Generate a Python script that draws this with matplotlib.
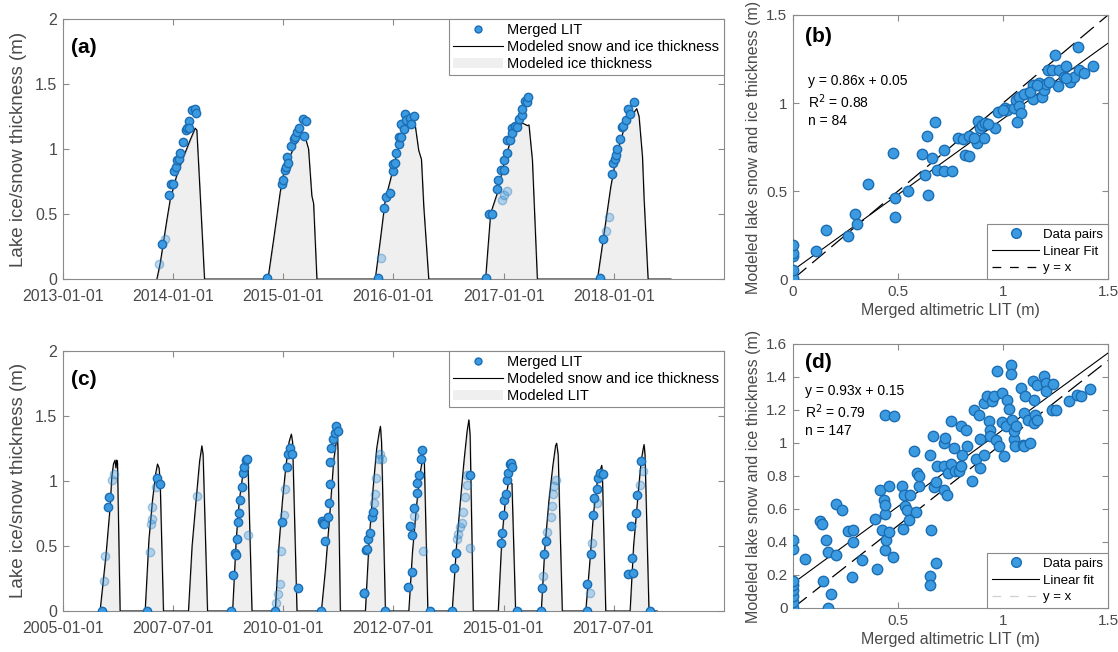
import datetime as dt
import matplotlib
matplotlib.use("Agg")
import matplotlib.pyplot as plt
import matplotlib.dates as mdates
from matplotlib.lines import Line2D
from matplotlib.patches import Patch

plt.rcParams.update({
    "font.family": ["Liberation Sans", "DejaVu Sans"],
    "axes.edgecolor": "#8a8a8a",
    "axes.linewidth": 0.8,
    "xtick.color": "#8a8a8a",
    "ytick.color": "#8a8a8a",
    "xtick.labelcolor": "#4a4a4a",
    "ytick.labelcolor": "#4a4a4a",
    "axes.labelcolor": "#4a4a4a",
})

FACE = "#3c9be0"
EDGE = "#1b6db4"
FILL = "#efefef"

# ── Panel (a): time series 2013-2018 ─────────────────────────────────────────
a_line_t = [2013.852, 2013.882, 2013.942, 2013.973, 2014.033, 2014.094, 2014.155, 2014.200, 2014.215, 2014.239, 2014.285,
            2014.861, 2014.912, 2014.973, 2015.003, 2015.064, 2015.124, 2015.170, 2015.200, 2015.230, 2015.260, 2015.276, 2015.306,
            2015.836, 2015.882, 2015.927, 2015.973, 2016.033, 2016.094, 2016.170, 2016.194, 2016.230, 2016.255, 2016.276, 2016.321,
            2016.836, 2016.882, 2016.942, 2017.003, 2017.064, 2017.124, 2017.170, 2017.215, 2017.230, 2017.261, 2017.306,
            2017.852, 2017.912, 2017.973, 2018.030, 2018.091, 2018.155, 2018.209, 2018.230, 2018.261, 2018.276, 2018.312, 2018.520]
a_line_v = [0, 0.12, 0.45, 0.61, 0.80, 0.94, 1.07, 1.16, 1.146, 0.76, 0,
            0, 0.30, 0.67, 0.81, 0.95, 1.06, 1.11, 1.09, 1.00, 0.64, 0.58, 0,
            0, 0.30, 0.61, 0.76, 0.97, 1.12, 1.22, 1.21, 0.99, 0.92, 0.56, 0,
            0, 0.505, 0.66, 0.89, 1.07, 1.16, 1.20, 1.18, 1.185, 0.915, 0,
            0, 0.35, 0.71, 0.97, 1.15, 1.25, 1.31, 1.25, 0.94, 0.61, 0, 0]

a_lit_t = [2013.876, 2013.897, 2013.924, 2013.958, 2013.979, 2014.003, 2014.009, 2014.030, 2014.033, 2014.057, 2014.064,
           2014.088, 2014.118, 2014.124, 2014.145, 2014.148, 2014.170, 2014.200, 2014.206,
           2014.852, 2014.988, 2014.997, 2015.012, 2015.024, 2015.039, 2015.048, 2015.070, 2015.094, 2015.109,
           2015.124, 2015.148, 2015.176, 2015.185, 2015.206,
           2015.858, 2015.891, 2015.912, 2015.936, 2015.967, 2015.994, 2015.997, 2016.018, 2016.024, 2016.048,
           2016.048, 2016.073, 2016.073, 2016.094, 2016.103, 2016.115, 2016.148, 2016.164, 2016.185,
           2016.836, 2016.867, 2016.897, 2016.942, 2016.948, 2016.982, 2017.003, 2017.033, 2016.976, 2017.003,
           2017.003, 2017.027, 2017.033, 2017.058, 2017.079, 2017.079, 2017.100, 2017.124, 2017.139, 2017.170,
           2017.170, 2017.194, 2017.215, 2017.221,
           2017.876, 2017.906, 2017.933, 2017.961, 2017.982, 2017.994, 2018.009, 2018.024, 2018.030, 2018.054,
           2018.076, 2018.085, 2018.109, 2018.130, 2018.145, 2018.185]
a_lit_v = [0.113, 0.27, 0.31, 0.65, 0.73, 0.73, 0.83, 0.86, 0.915, 0.92, 0.967,
           1.056, 1.146, 1.16, 1.215, 1.16, 1.30, 1.305, 1.275,
           0.005, 0.73, 0.76, 0.84, 0.86, 0.94, 0.89, 1.02, 1.08, 1.09,
           1.13, 1.16, 1.23, 1.10, 1.215,
           0.005, 0.16, 0.55, 0.63, 0.66, 0.83, 0.885, 0.895, 0.97, 1.036,
           1.095, 1.095, 1.19, 1.15, 1.27, 1.22, 1.235, 1.19, 1.256,
           0.005, 0.50, 0.50, 0.69, 0.76, 0.61, 0.65, 0.68, 0.84, 0.84,
           0.915, 0.97, 1.07, 1.07, 1.16, 1.12, 1.18, 1.17, 1.23, 1.26,
           1.31, 1.37, 1.36, 1.40,
           0.005, 0.305, 0.37, 0.48, 0.81, 0.895, 0.92, 0.95, 1.00, 1.08,
           1.17, 1.18, 1.22, 1.31, 1.27, 1.36]
a_lit_faded = [1, 0, 1, 0, 0, 0, 0, 0, 0, 0, 0,
               0, 0, 0, 0, 0, 0, 0, 0,
               0, 0, 0, 0, 0, 0, 0, 0, 0, 0,
               0, 0, 0, 0, 0,
               0, 1, 0, 0, 0, 0, 0, 0, 0, 0,
               0, 0, 0, 0, 0, 0, 0, 0, 0,
               0, 0, 0, 0, 0, 1, 1, 1, 0, 0,
               0, 0, 0, 0, 0, 0, 0, 0, 0, 0,
               0, 0, 0, 0,
               0, 0, 1, 1, 0, 0, 0, 0, 0, 0,
               0, 0, 0, 0, 0, 0]
a_ticks = ["2013-01-01", "2014-01-01", "2015-01-01", "2016-01-01", "2017-01-01", "2018-01-01"]

# ── Panel (c): time series 2005-2018 ─────────────────────────────────────────
c_line_t = [2005.840, 2005.977, 2006.068, 2006.106, 2006.144, 2006.180, 2006.200, 2006.220, 2006.235, 2006.295,
            2006.864, 2006.950, 2007.030, 2007.100, 2007.144, 2007.180, 2007.205, 2007.280,
            2007.848, 2007.930, 2008.020, 2008.100, 2008.152, 2008.180, 2008.280,
            2008.848, 2008.930, 2009.000, 2009.080, 2009.140, 2009.174, 2009.200, 2009.288,
            2009.818, 2009.900, 2009.980, 2010.060, 2010.130, 2010.182, 2010.210, 2010.310,
            2010.864, 2010.955, 2011.068, 2011.144, 2011.205, 2011.230, 2011.240, 2011.295,
            2011.864, 2011.950, 2012.040, 2012.120, 2012.180, 2012.205, 2012.230, 2012.318,
            2012.848, 2012.930, 2013.020, 2013.100, 2013.150, 2013.174, 2013.200, 2013.280,
            2013.833, 2013.930, 2014.020, 2014.100, 2014.170, 2014.212, 2014.240, 2014.311,
            2014.879, 2014.960, 2015.040, 2015.100, 2015.150, 2015.190, 2015.273,
            2015.856, 2015.940, 2016.030, 2016.120, 2016.180, 2016.205, 2016.240, 2016.333,
            2016.864, 2016.950, 2017.040, 2017.120, 2017.190, 2017.227, 2017.240, 2017.318,
            2017.871, 2017.950, 2018.040, 2018.120, 2018.170, 2018.189, 2018.210, 2018.300, 2018.490]
c_line_v = [0, 0.44, 0.80, 1.03, 1.13, 1.16, 1.10, 1.16, 1.15, 0,
            0, 0.55, 0.85, 1.05, 1.13, 1.10, 1.00, 0,
            0, 0.50, 0.85, 1.15, 1.27, 1.20, 0,
            0, 0.55, 0.85, 1.05, 1.12, 1.17, 1.10, 0,
            0, 0.50, 0.85, 1.12, 1.30, 1.36, 1.30, 0,
            0, 0.315, 0.80, 1.16, 1.31, 1.34, 1.25, 0,
            0, 0.55, 0.95, 1.25, 1.38, 1.42, 1.30, 0,
            0, 0.45, 0.80, 1.05, 1.15, 1.19, 1.15, 0,
            0, 0.50, 0.85, 1.15, 1.38, 1.47, 1.35, 0,
            0, 0.55, 0.85, 0.97, 1.00, 0.98, 0,
            0, 0.50, 0.85, 1.12, 1.27, 1.29, 1.20, 0,
            0, 0.35, 0.75, 0.98, 1.08, 1.12, 1.07, 0,
            0, 0.50, 0.85, 1.15, 1.25, 1.28, 1.20, 0, 0]

c_lit_t = [2005.879, 2005.939, 2005.962, 2006.015, 2006.038, 2006.106, 2006.167,
           2006.902, 2006.977, 2006.992, 2007.015, 2007.030, 2007.106, 2007.129, 2007.205,
           2008.038,
           2008.810, 2008.856, 2008.894, 2008.924, 2008.947, 2008.970, 2008.990, 2009.023, 2009.060, 2009.083,
           2009.114, 2009.144, 2009.174, 2009.197,
           2009.818, 2009.840, 2009.870, 2009.917, 2009.947, 2009.977, 2010.023, 2010.045, 2010.083, 2010.106,
           2010.144, 2010.197, 2010.326,
           2010.864, 2010.879, 2010.900, 2010.917, 2010.955, 2011.008, 2011.030, 2011.053, 2011.068, 2011.090,
           2011.129, 2011.182, 2011.205, 2011.235,
           2011.826, 2011.840, 2011.886, 2011.900, 2011.924, 2011.977, 2012.015, 2012.038, 2012.053, 2012.090,
           2012.114, 2012.167, 2012.205, 2012.242, 2012.303,
           2012.833, 2012.871, 2012.924, 2012.924, 2012.962, 2012.977, 2013.023, 2013.038, 2013.076, 2013.114,
           2013.152, 2013.167, 2013.326,
           2013.833, 2013.871, 2013.909, 2013.932, 2013.970, 2014.008, 2014.045, 2014.076, 2014.114, 2014.159,
           2014.174, 2014.235, 2014.235,
           2014.932, 2014.970, 2014.992, 2015.008, 2015.045, 2015.068, 2015.098, 2015.136, 2015.174, 2015.197,
           2015.296,
           2015.856, 2015.879, 2015.902, 2015.917, 2015.955, 2015.992, 2016.068, 2016.091, 2016.129, 2016.144,
           2016.182,
           2016.886, 2016.902, 2016.955, 2016.977, 2017.015, 2017.038, 2017.053, 2017.114, 2017.129, 2017.144,
           2017.182, 2017.258,
           2017.833, 2017.886, 2017.909, 2017.947, 2018.000, 2018.038, 2018.098, 2018.129, 2018.160, 2018.326]
c_lit_v = [0.0, 0.233, 0.42, 0.80, 0.88, 1.006, 1.05,
           0.0, 0.45, 0.67, 0.71, 0.80, 0.95, 1.02, 0.975,
           0.886,
           0.0, 0.277, 0.443, 0.43, 0.55, 0.686, 0.755, 0.853, 0.95, 1.058,
           1.109, 1.16, 1.165, 0.584,
           0.0, 0.06, 0.13, 0.207, 0.464, 0.686, 0.737, 0.94, 1.11, 1.21,
           1.25, 1.21, 0.174,
           0.0, 0.69, 0.68, 0.667, 0.54, 0.72, 0.827, 0.98, 1.147, 1.25,
           1.32, 1.365, 1.42, 1.38,
           0.14, 0.14, 0.47, 0.48, 0.55, 0.60, 0.725, 0.763, 0.83, 0.90,
           1.02, 1.17, 1.21, 1.17, 0.0,
           0.187, 0.653, 0.584, 0.297, 0.73, 0.79, 0.91, 0.986, 1.045, 1.17,
           1.237, 0.464, 0.0,
           0.0, 0.333, 0.443, 0.55, 0.59, 0.648, 0.674, 0.763, 0.873, 0.968,
           1.045, 1.045, 0.487,
           0.525, 0.597, 0.737, 0.853, 0.90, 1.01, 1.063, 1.13, 1.14, 1.104,
           0.0,
           0.0, 0.174, 0.269, 0.435, 0.54, 0.61, 0.725, 0.807, 0.90, 0.96,
           1.006,
           0.0, 0.21, 0.14, 0.435, 0.525, 0.737, 0.87, 0.83, 0.935, 1.02,
           1.063, 1.05,
           0.284, 0.653, 0.405, 0.29, 0.755, 0.89, 0.968, 1.155, 1.08, 0.0]
c_lit_faded = [0, 1, 1, 0, 0, 1, 1,
               0, 1, 1, 1, 1, 1, 0, 0,
               1,
               0, 0, 0, 0, 0, 0, 0, 0, 0, 0,
               0, 0, 0, 1,
               0, 1, 1, 1, 1, 0, 1, 1, 0, 0,
               0, 0, 0,
               0, 0, 0, 0, 0, 0, 0, 0, 0, 0,
               0, 0, 0, 0,
               0, 0, 0, 0, 0, 0, 0, 0, 1, 1,
               1, 1, 1, 1, 0,
               0, 0, 0, 0, 1, 0, 0, 0, 0, 0,
               0, 1, 0,
               0, 0, 0, 1, 1, 1, 1, 1, 1, 1,
               1, 0, 1,
               0, 0, 0, 0, 0, 0, 0, 0, 0, 0,
               0,
               0, 0, 1, 0, 0, 1, 1, 1, 1, 1,
               1,
               0, 0, 1, 0, 1, 0, 0, 1, 0, 0,
               0, 0,
               0, 0, 0, 0, 0, 0, 1, 0, 1, 0]
c_ticks = ["2005-01-01", "2007-07-01", "2010-01-01", "2012-07-01", "2015-01-01", "2017-07-01"]

# ── Panel (b): scatter, n = 84 ───────────────────────────────────────────────
b_x = [0, 0, 0, 0, 0, 0.111, 0.159, 0.262, 0.297, 0.305, 0.358, 0.474, 0.485, 0.488, 0.546,
       0.612, 0.628, 0.639, 0.644, 0.660, 0.676, 0.687, 0.719, 0.720, 0.755, 0.787, 0.811, 0.819,
       0.840, 0.840, 0.875, 0.883, 0.888, 0.899, 0.910, 0.915, 0.962, 0.978, 1.010, 1.018, 1.050,
       1.062, 1.074, 1.074, 1.086, 1.066, 1.121, 1.145, 1.145, 1.169, 1.185, 1.193, 1.206, 1.212,
       1.233, 1.249, 1.260, 1.265, 1.288, 1.301, 1.320, 1.336, 1.355, 1.360, 1.384, 1.428,
       0.860, 0.930, 1.000, 1.100, 1.130, 1.160, 1.220, 1.300]
b_y = [0.006, 0.05, 0.13, 0.15, 0.195, 0.157, 0.28, 0.246, 0.369, 0.312, 0.541, 0.715, 0.458, 0.352, 0.503,
       0.711, 0.592, 0.813, 0.475, 0.687, 0.895, 0.617, 0.734, 0.611, 0.611, 0.80, 0.794, 0.705,
       0.70, 0.81, 0.775, 0.90, 0.857, 0.876, 0.804, 0.889, 0.857, 0.951, 0.97, 0.96, 0.97,
       1.018, 1.037, 0.984, 0.942, 0.895, 1.055, 1.023, 1.103, 1.112, 1.037, 1.074, 1.108, 1.188,
       1.188, 1.273, 1.097, 1.188, 1.146, 1.21, 1.12, 1.146, 1.316, 1.188, 1.173, 1.21,
       0.80, 0.88, 0.96, 1.05, 1.06, 1.10, 1.12, 1.14]
b_fit = (0.86, 0.05)

# ── Panel (d): scatter, n = 147 ──────────────────────────────────────────────
d_x = [0, 0, 0, 0, 0, 0, 0, 0, 0.056, 0.128, 0.136, 0.144, 0.156, 0.168, 0.168, 0.179, 0.207, 0.207,
       0.231, 0.263, 0.287, 0.287, 0.279, 0.327, 0.391, 0.399, 0.415, 0.423, 0.431, 0.436, 0.439,
       0.439, 0.442, 0.455, 0.458, 0.439, 0.479, 0.474, 0.519, 0.523, 0.527, 0.535, 0.543, 0.551,
       0.555, 0.574, 0.587, 0.590, 0.598, 0.601, 0.650, 0.654, 0.654, 0.659, 0.667, 0.673, 0.683,
       0.686, 0.683, 0.718, 0.726, 0.721, 0.721, 0.734, 0.739, 0.750, 0.754, 0.766, 0.770, 0.790,
       0.798, 0.798, 0.806, 0.822, 0.830, 0.854, 0.862, 0.870, 0.886, 0.890, 0.890, 0.910, 0.910,
       0.925, 0.933, 0.938, 0.938, 0.949, 0.957, 0.965, 0.973, 0.981, 0.997, 0.997, 1.005, 1.013,
       1.021, 1.029, 1.037, 1.040, 1.045, 1.050, 1.053, 1.056, 1.061, 1.085, 1.093, 1.098, 1.101,
       1.104, 1.117, 1.130, 1.141, 1.149, 1.149, 1.152, 1.162, 1.162, 1.197, 1.205, 1.205, 1.232,
       1.240, 1.252, 1.316, 1.353, 1.369, 1.412]
d_y = [0, 0.034, 0.075, 0.107, 0.141, 0.162, 0.358, 0.414, 0.297, 0.525, 0.511, 0.162, 0.414, 0.337, 0,
       0.085, 0.323, 0.63, 0.592, 0.465, 0.471, 0.398, 0.186, 0.289, 0.539, 0.236, 0.713, 0.471, 0.657,
       0.572, 0.626, 0.35, 0.41, 0.459, 0.741, 1.168, 1.166, 0.309, 0.737, 0.479, 0.687, 0.616, 0.596,
       0.535, 0.687, 0.95, 0.58, 0.818, 0.737, 0.798, 0.929, 0.196, 0.141, 0.471, 1.04, 0.731, 0.762,
       0.863, 0.273, 1.0, 1.03, 0.859, 0.713, 0.683, 0.818, 0.875, 1.131, 0.97, 0.828, 0.828,
       1.101, 0.859, 0.929, 1.081, 0.98, 0.768, 1.202, 0.903, 1.172, 1.026, 0.848, 0.929, 1.242,
       1.283, 1.131, 1.081, 1.04, 1.253, 1.283, 1.02, 1.438, 0.984, 1.303, 1.125, 0.919, 1.105,
       1.263, 1.206, 1.471, 1.42, 1.141, 1.024, 1.071, 0.98, 1.105, 1.333, 0.99, 0.98, 1.182,
       1.283, 1.141, 1.0, 1.378, 1.263, 1.121, 1.172, 1.354, 1.141, 1.408, 1.364, 1.313, 1.198,
       1.36, 1.198, 1.253, 1.293, 1.283, 1.327]
d_fit = (0.93, 0.15)


def to_date(year_frac):
    year = int(year_frac)
    start = dt.datetime(year, 1, 1)
    end = dt.datetime(year + 1, 1, 1)
    return start + (end - start) * (year_frac - year)


def style_axes(ax):
    ax.tick_params(direction="in", top=True, right=True, length=4, width=0.8,
                   labelsize=11.5, pad=4)
    for s in ax.spines.values():
        s.set_color("#8a8a8a")


def time_panel(ax, line_t, line_v, pts_t, pts_v, faded, ticks, xlim, label, fill_label):
    dates = [to_date(t) for t in line_t]
    ax.fill_between(dates, 0, line_v, facecolor=FILL, edgecolor="#9a9a9a", linewidth=0.6, zorder=1)
    ax.plot(dates, line_v, color="black", linewidth=0.8, zorder=2)
    for flag, alpha in ((1, 0.35), (0, 1.0)):
        tt = [to_date(t) for t, f in zip(pts_t, faded) if f == flag]
        vv = [v for v, f in zip(pts_v, faded) if f == flag]
        ax.plot(tt, vv, "o", ms=6, mfc=FACE, mec=EDGE, mew=1.0, alpha=alpha, zorder=3)
    ax.set_xlim(dt.datetime.fromisoformat(xlim[0]), dt.datetime.fromisoformat(xlim[1]))
    ax.set_ylim(0, 2)
    ax.set_yticks([0, 0.5, 1, 1.5, 2])
    ax.set_yticklabels(["0", "0.5", "1", "1.5", "2"])
    ax.set_xticks([dt.datetime.fromisoformat(s) for s in ticks])
    ax.xaxis.set_major_formatter(mdates.DateFormatter("%Y-%m-%d"))
    ax.set_ylabel("Lake ice/snow thickness (m)", fontsize=13.5, labelpad=6)
    style_axes(ax)
    ax.tick_params(axis="x", pad=7)
    ax.text(0.012, 0.89, label, transform=ax.transAxes, fontsize=15, fontweight="bold", va="center")
    handles = [
        Line2D([], [], marker="o", ls="none", ms=5, mfc=FACE, mec=EDGE),
        Line2D([], [], color="black", lw=0.8),
        Patch(facecolor=FILL, edgecolor="none"),
    ]
    leg = ax.legend(handles, ["Merged LIT", "Modeled snow and ice thickness", fill_label],
                    loc="upper right", borderaxespad=0, fancybox=False, framealpha=1,
                    edgecolor="#8a8a8a", fontsize=10.5, handlelength=3.4, labelspacing=0.2,
                    handletextpad=0.3, borderpad=0.3)
    leg.get_frame().set_linewidth(0.8)


def scatter_panel(ax, xs, ys, fit, n, r2, label, yticks, xticks, ylim, yx_color, text_y, legend_lines):
    xx = [0, 1.5]
    ax.plot(xs, ys, "o", ms=7.5, mfc=FACE, mec=EDGE, mew=1.0, zorder=3)
    ax.plot(xx, [fit[0] * x + fit[1] for x in xx], color="black", lw=0.8, zorder=2)
    ax.plot(xx, xx, color="black", lw=0.9, dashes=(14, 6), zorder=2)
    ax.set_xlim(0, 1.5)
    ax.set_ylim(*ylim)
    ax.set_xticks(xticks)
    ax.set_xticklabels([f"{v:g}" for v in xticks])
    ax.set_yticks(yticks)
    ax.set_yticklabels([f"{v:g}" for v in yticks])
    ax.set_xlabel("Merged altimetric LIT (m)", fontsize=11.5, labelpad=3)
    ax.set_ylabel("Modeled lake snow and ice thickness (m)", fontsize=11.5, labelpad=4)
    style_axes(ax)
    ax.tick_params(labelsize=11)
    ax.text(0.038, 0.917 if label == "(b)" else 0.928, label, transform=ax.transAxes,
            fontsize=15, fontweight="bold", va="center")
    tx = 0.07 if label == "(b)" else 0.056
    ax.text(tx, text_y[0], f"y = {fit[0]:.2f}x + {fit[1]:.2f}", fontsize=10, va="center")
    ax.text(tx, text_y[1], f"R$^2$ = {r2:.2f}", fontsize=10, va="center")
    ax.text(tx, text_y[2], f"n = {n}", fontsize=10, va="center")
    handles = [
        Line2D([], [], marker="o", ls="none", ms=7, mfc=FACE, mec=EDGE),
        Line2D([], [], color="black", lw=0.8),
        Line2D([], [], color=yx_color, lw=0.9, dashes=(7, 7)),
    ]
    leg = ax.legend(handles, legend_lines, loc="lower right", borderaxespad=0, fancybox=False,
                    framealpha=1, edgecolor="#8a8a8a", fontsize=9.5, handlelength=3.6,
                    labelspacing=0.35, handletextpad=0.3, borderpad=0.35)
    leg.get_frame().set_linewidth(0.8)


fig = plt.figure(figsize=(11.18, 6.52), dpi=100)
ax_a = fig.add_axes([0.0564, 0.572, 0.591, 0.399])
ax_b = fig.add_axes([0.7093, 0.572, 0.2818, 0.405])
ax_c = fig.add_axes([0.0564, 0.0629, 0.591, 0.399])
ax_d = fig.add_axes([0.7093, 0.0675, 0.2818, 0.405])

time_panel(ax_a, a_line_t, a_line_v, a_lit_t, a_lit_v, a_lit_faded, a_ticks,
           ("2013-01-01", "2019-01-01"), "(a)", "Modeled ice thickness")
time_panel(ax_c, c_line_t, c_line_v, c_lit_t, c_lit_v, c_lit_faded, c_ticks,
           ("2005-01-01", "2020-01-01"), "(c)", "Modeled LIT")

scatter_panel(ax_b, b_x, b_y, b_fit, 84, 0.88, "(b)", [0, 0.5, 1, 1.5], [0, 0.5, 1, 1.5], (0, 1.5),
              "black", (1.125, 1.01, 0.90), ["Data pairs", "Linear Fit", "y = x"])
scatter_panel(ax_d, d_x, d_y, d_fit, 147, 0.79, "(d)", [0, 0.2, 0.4, 0.6, 0.8, 1, 1.2, 1.4, 1.6],
              [0.5, 1, 1.5], (0, 1.6), "#cfcfcf", (1.317, 1.188, 1.075),
              ["Data pairs", "Linear fit", "y = x"])

fig.savefig("out.png", dpi=100)
